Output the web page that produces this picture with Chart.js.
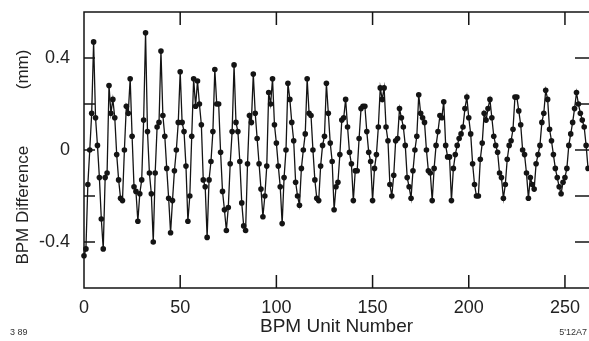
<!DOCTYPE html>
<html>
<head>
<meta charset="utf-8">
<script src="https://cdn.jsdelivr.net/npm/chart.js@4"></script>
<style>
  html, body { margin: 0; padding: 0; background: #fff; overflow: hidden; }
</style>
</head>
<body>
<canvas id="chart" width="589" height="341"></canvas>
<script>
// BPM difference (mm), one reading per BPM unit, starting at unit 0
const bpmDiff = [
  -0.46, -0.43, -0.15, 0.00, 0.16, 0.47, 0.14, 0.02, -0.12, -0.30,
  -0.43, -0.12, -0.10, 0.28, 0.16, 0.22, 0.14, -0.02, -0.13, -0.21,
  -0.22, 0.00, 0.19, 0.16, 0.31, 0.06, -0.16, -0.18, -0.31, -0.19,
  -0.13, 0.13, 0.51, 0.08, -0.10, -0.19, -0.40, -0.10, 0.10, 0.12,
  0.43, 0.15, 0.06, -0.08, -0.21, -0.36, -0.22, -0.09, 0.00, 0.12,
  0.34, 0.12, 0.08, -0.07, -0.31, -0.20, 0.06, 0.31, 0.19, 0.30,
  0.20, 0.11, -0.13, -0.16, -0.38, -0.13, -0.05, 0.08, 0.35, 0.20,
  0.20, -0.01, -0.18, -0.26, -0.35, -0.25, -0.06, 0.08, 0.37, 0.12,
  0.08, -0.05, -0.23, -0.33, -0.35, -0.06, 0.15, 0.12, 0.33, 0.16,
  0.05, -0.06, -0.17, -0.29, -0.20, -0.07, 0.25, 0.20, 0.31, 0.11,
  0.03, -0.07, -0.16, -0.32, -0.12, 0.00, 0.29, 0.22, 0.12, 0.04,
  -0.14, -0.20, -0.24, -0.08, 0.00, 0.07, 0.31, 0.16, 0.15, 0.00,
  -0.13, -0.21, -0.22, -0.07, 0.02, 0.06, 0.29, 0.16, 0.03, -0.05,
  -0.26, -0.16, -0.14, -0.02, 0.13, 0.14, 0.22, 0.10, -0.01, -0.06,
  -0.22, -0.09, -0.09, 0.05, 0.18, 0.19, 0.19, 0.08, -0.01, -0.05,
  -0.22, -0.08, -0.02, 0.10, 0.27, 0.22, 0.27, 0.10, 0.04, -0.15,
  -0.20, -0.11, 0.04, 0.05, 0.18, 0.14, 0.10, 0.02, -0.12, -0.16,
  -0.21, -0.09, 0.00, 0.06, 0.24, 0.16, 0.14, 0.12, 0.00, -0.09,
  -0.10, -0.22, -0.08, 0.02, 0.08, 0.15, 0.14, 0.21, 0.02, -0.03,
  -0.03, -0.22, -0.08, -0.02, 0.02, 0.05, 0.07, 0.10, 0.18, 0.23,
  0.14, 0.07, -0.06, -0.15, -0.20, -0.20, -0.04, 0.03, 0.16, 0.13,
  0.18, 0.22, 0.14, 0.06, 0.02, -0.01, -0.10, -0.12, -0.21, -0.15,
  -0.04, 0.02, 0.04, 0.09, 0.23, 0.23, 0.17, 0.11, 0.00, -0.02,
  -0.10, -0.21, -0.12, -0.15, -0.17, -0.06, -0.02, 0.02, 0.12, 0.16,
  0.26, 0.22, 0.09, 0.04, -0.02, -0.08, -0.12, -0.16, -0.19, -0.14,
  -0.12, -0.08, 0.02, 0.07, 0.12, 0.18, 0.25, 0.20, 0.16, 0.13,
  0.10, 0.02, -0.08
];

const xTicks = [0, 50, 100, 150, 200, 250];
const yLabelTicks = [-0.4, 0, 0.4];
const yMarkTicks = [-0.4, -0.2, 0, 0.2, 0.4];

const INK = '#141414';
const FONT = '"Liberation Sans", Arial, sans-serif';

// frame with inward tick marks, plus the two corner notes
const frame = {
  id: 'frame',
  afterDatasetsDraw(chart) {
    const { ctx, chartArea: a, scales: { x, y } } = chart;
    ctx.save();
    ctx.strokeStyle = INK;
    ctx.lineWidth = 1.5;
    ctx.beginPath();
    ctx.moveTo(a.right, a.top);
    ctx.lineTo(a.left, a.top);
    ctx.lineTo(a.left, a.bottom);
    ctx.lineTo(a.right, a.bottom);
    xTicks.forEach(v => {
      const px = x.getPixelForValue(v);
      ctx.moveTo(px, a.top); ctx.lineTo(px, a.top + 13);
      ctx.moveTo(px, a.bottom); ctx.lineTo(px, a.bottom - 13);
    });
    yMarkTicks.forEach(v => {
      const py = y.getPixelForValue(v);
      ctx.moveTo(a.left, py); ctx.lineTo(a.left + 11, py);
      ctx.moveTo(a.right, py); ctx.lineTo(a.right - 14, py);
    });
    ctx.stroke();

    ctx.fillStyle = '#333';
    ctx.font = '9px ' + FONT;
    ctx.textBaseline = 'alphabetic';
    ctx.textAlign = 'left';
    ctx.fillText('3 89', 10, 335);
    ctx.textAlign = 'right';
    ctx.fillText("5'12A7", 587, 335);
    ctx.restore();
  }
};

new Chart(document.getElementById('chart'), {
  type: 'line',
  data: {
    datasets: [{
      data: bpmDiff.map((v, i) => ({ x: i, y: v })),
      borderColor: INK,
      borderWidth: 1.3,
      backgroundColor: INK,
      pointRadius: 2.8,
      pointBorderWidth: 0,
      pointBackgroundColor: INK,
      tension: 0,
      clip: false
    }]
  },
  options: {
    responsive: false,
    animation: false,
    devicePixelRatio: 1,
    layout: { autoPadding: false, padding: { top: 12, right: 0, left: 0, bottom: 0 } },
    plugins: { legend: { display: false }, tooltip: { enabled: false } },
    scales: {
      x: {
        type: 'linear',
        min: 0,
        max: 262.5,
        afterFit: s => { s.height = 53; s.paddingLeft = 0; s.paddingRight = 0; },
        afterBuildTicks: s => { s.ticks = xTicks.map(v => ({ value: v })); },
        grid: { display: false, drawTicks: false },
        border: { display: false },
        ticks: {
          autoSkip: false,
          maxRotation: 0,
          padding: 9,
          color: '#222',
          font: { family: FONT, size: 18 }
        },
        title: {
          display: true,
          text: 'BPM Unit Number',
          color: '#222',
          font: { family: FONT, size: 19 },
          padding: { top: 0, bottom: 3 }
        }
      },
      y: {
        min: -0.6,
        max: 0.6,
        afterFit: s => { s.width = 84; s.paddingTop = 0; s.paddingBottom = 0; },
        afterBuildTicks: s => { s.ticks = yLabelTicks.map(v => ({ value: v })); },
        grid: { display: false, drawTicks: false },
        border: { display: false },
        ticks: {
          padding: 14,
          color: '#222',
          font: { family: FONT, size: 18 },
          callback: v => (v === 0 ? '0' : v.toFixed(1))
        },
        title: {
          display: true,
          text: 'BPM Difference            (mm)   ',
          color: '#222',
          font: { family: FONT, size: 17 },
          padding: { top: 13, bottom: 0 }
        }
      }
    }
  },
  plugins: [frame]
});
</script>
</body>
</html>
